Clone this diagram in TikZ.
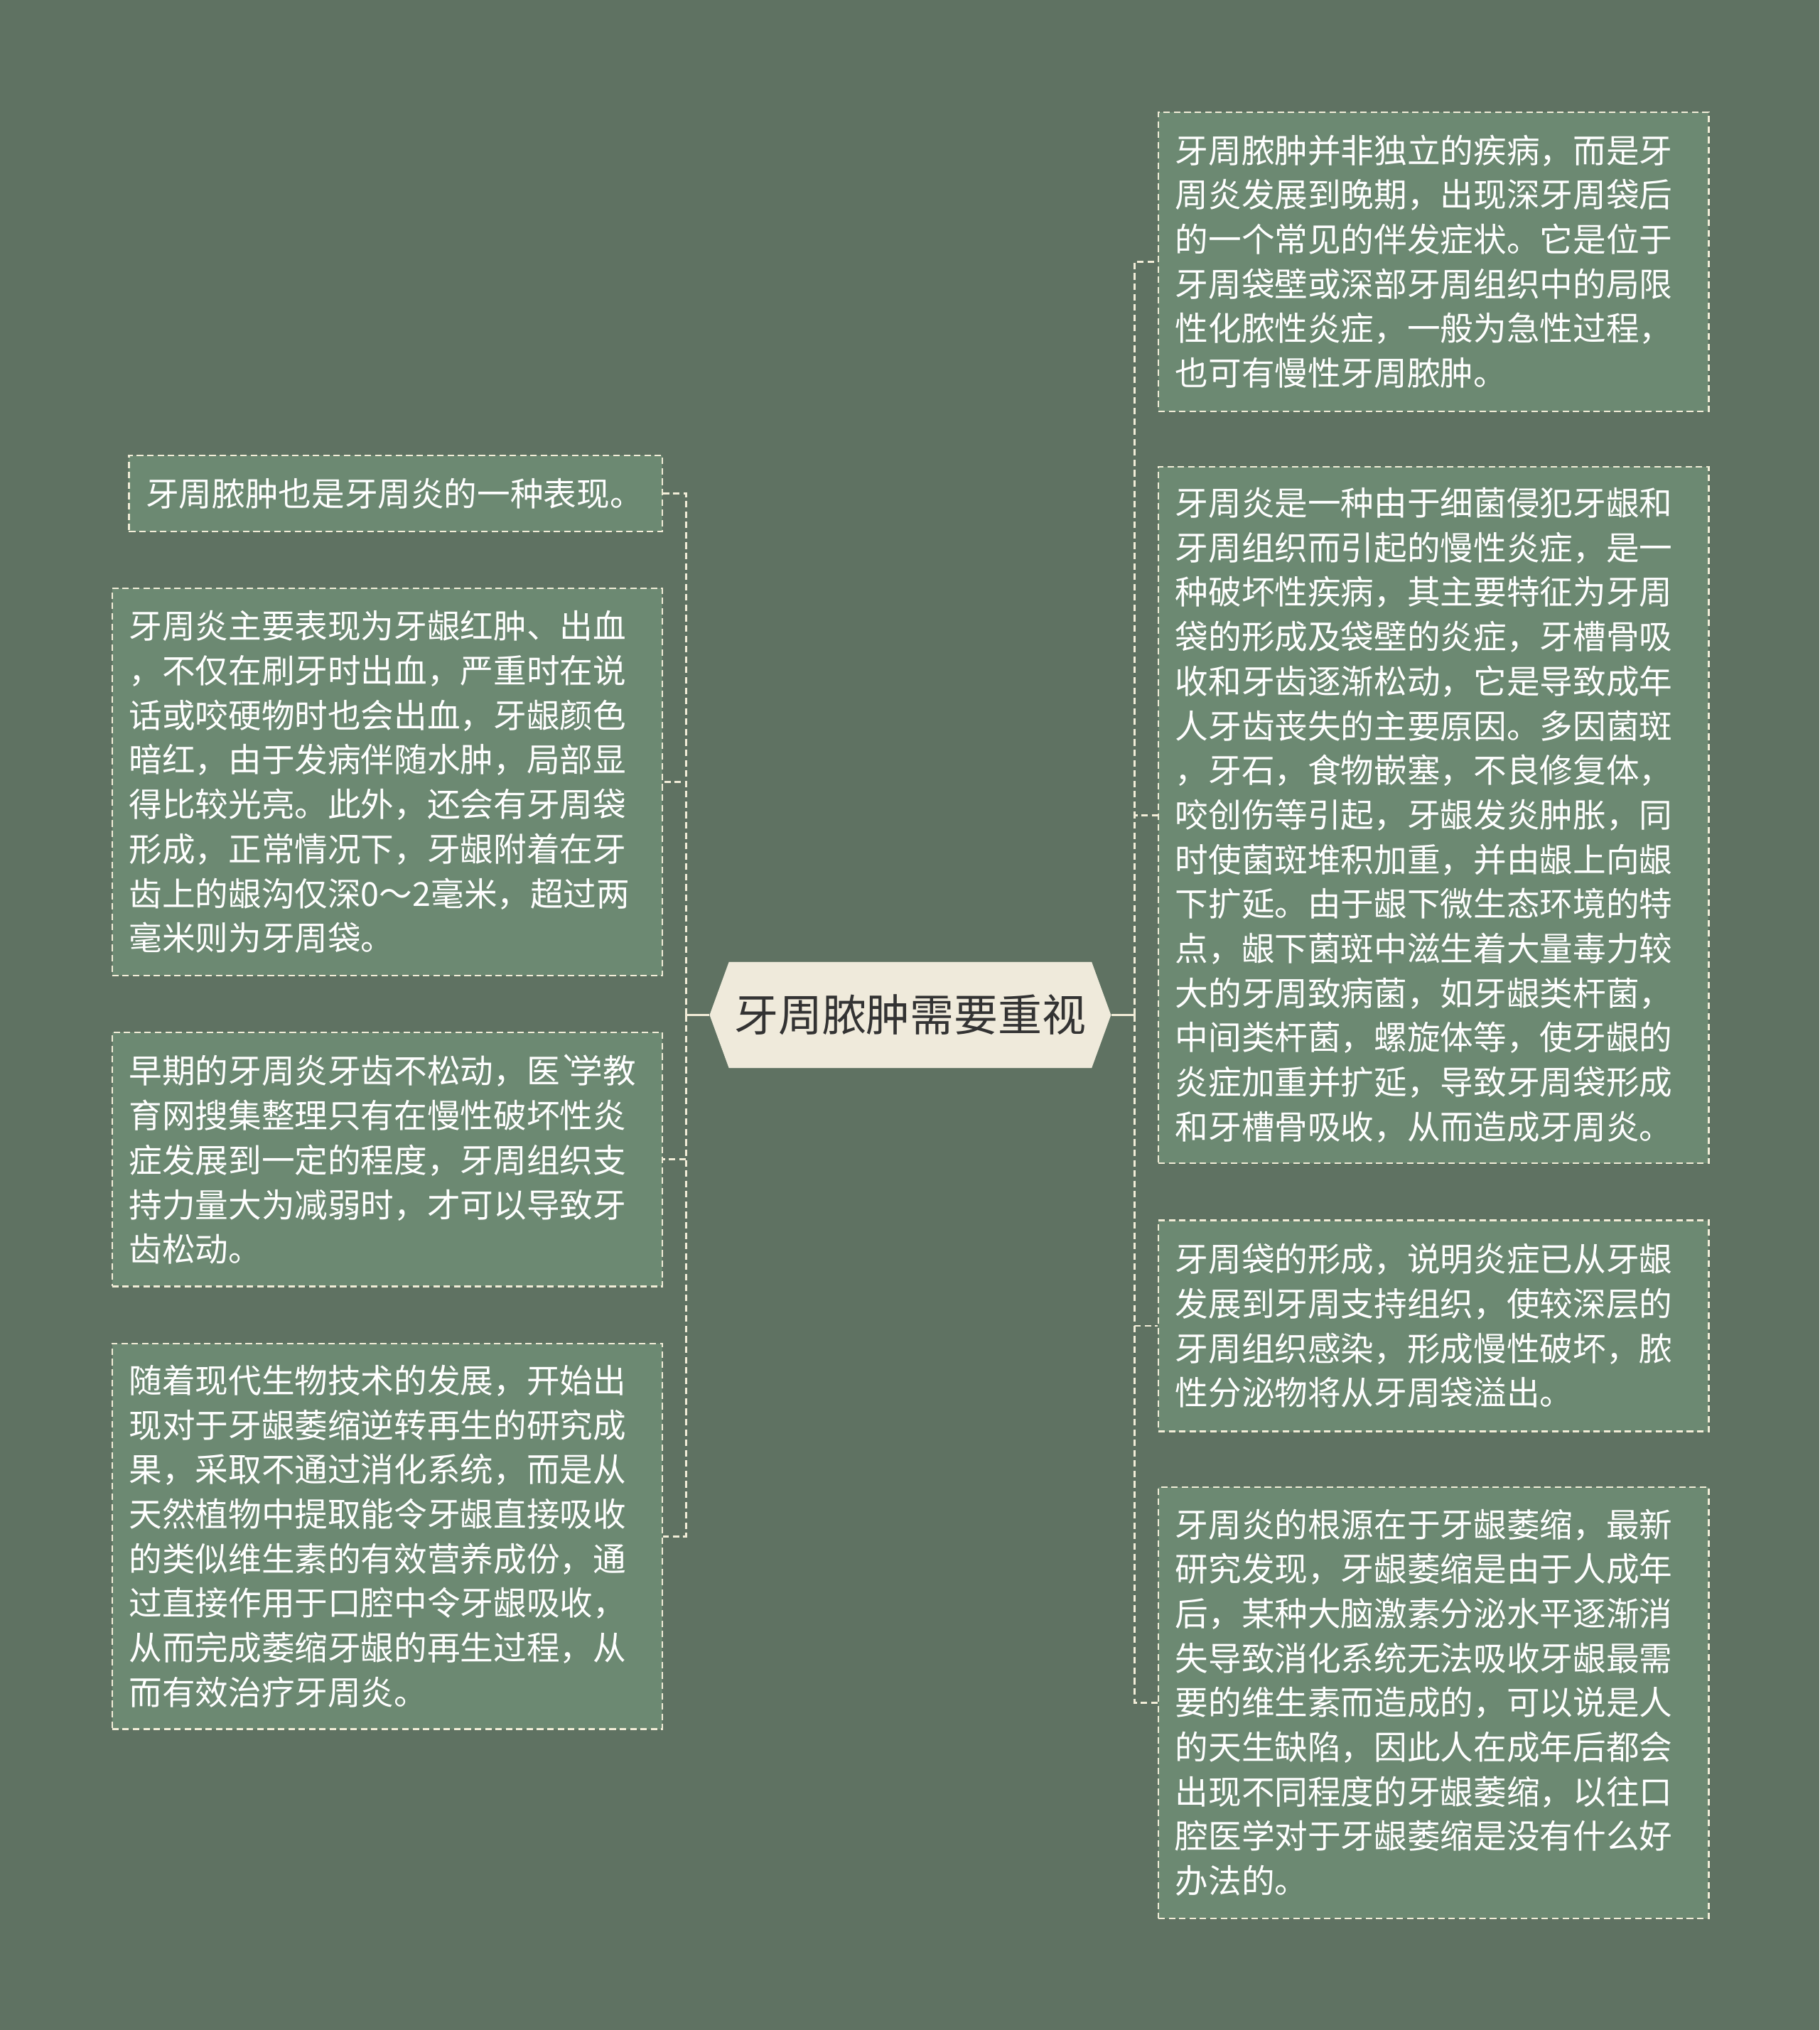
\documentclass[tikz,border=0pt]{standalone}
\usepackage{fontspec}
\usepackage{tikz}
\usetikzlibrary{shapes.symbols}
\newfontfamily\cjk[Ligatures=TeXOff]{Noto Sans CJK SC}
\definecolor{bgcol}{HTML}{5F7262}
\definecolor{boxcol}{HTML}{6C8972}
\definecolor{linecol}{HTML}{F2EDD8}
\definecolor{rootcol}{HTML}{EFEADB}
\definecolor{roottxt}{HTML}{333333}

\begin{document}
\begin{tikzpicture}[x=1pt,y=-1pt]
\fill[bgcol] (0,0) rectangle (1405,1568);
\useasboundingbox (0,0) rectangle (1405,1568);
 \tikzstyle{box}=[draw=linecol, fill=boxcol, line width=1.2pt, dash pattern=on 5pt off 3pt, anchor=north west, inner xsep=13pt, inner ysep=0pt, text width=399pt, align=left, text=white, font=\cjk\fontsize{25.6pt}{34.4pt}\selectfont]
 \tikzstyle{link}=[draw=linecol, line width=1.6pt, dash pattern=on 5pt off 3pt]
\node[shape=signal, signal to=west and east, signal pointer angle=140, fill=rootcol, minimum width=310pt, minimum height=82pt, inner sep=0pt, text=roottxt, font=\cjk\fontsize{34pt}{40pt}\selectfont](root) at (703,784){牙周脓肿需要重视};
% left side
\node[box, text width=386pt, minimum height=59pt](l1) at (99,351){牙周脓肿也是牙周炎的一种表现。};
\node[box, minimum height=299pt](l2) at (86,454){牙周炎主要表现为牙龈红肿、出血\\，不仅在刷牙时出血，严重时在说\\话或咬硬物时也会出血，牙龈颜色\\暗红，由于发病伴随水肿，局部显\\得比较光亮。此外，还会有牙周袋\\形成，正常情况下，牙龈附着在牙\\齿上的龈沟仅深0～2毫米，超过两\\毫米则为牙周袋。};
\node[box, minimum height=196pt](l3) at (86,797){早期的牙周炎牙齿不松动，医\makebox[0.3em][l]{`}学教\\育网搜集整理只有在慢性破坏性炎\\症发展到一定的程度，牙周组织支\\持力量大为减弱时，才可以导致牙\\齿松动。};
\node[box, minimum height=298pt](l4) at (86,1037){随着现代生物技术的发展，开始出\\现对于牙龈萎缩逆转再生的研究成\\果，采取不通过消化系统，而是从\\天然植物中提取能令牙龈直接吸收\\的类似维生素的有效营养成份，通\\过直接作用于口腔中令牙龈吸收，\\从而完成萎缩牙龈的再生过程，从\\而有效治疗牙周炎。};
% right side
\node[box, minimum height=231pt](r1) at (894,86){牙周脓肿并非独立的疾病，而是牙\\周炎发展到晚期，出现深牙周袋后\\的一个常见的伴发症状。它是位于\\牙周袋壁或深部牙周组织中的局限\\性化脓性炎症，一般为急性过程，\\也可有慢性牙周脓肿。};
\node[box, minimum height=538pt](r2) at (894,360){牙周炎是一种由于细菌侵犯牙龈和\\牙周组织而引起的慢性炎症，是一\\种破坏性疾病，其主要特征为牙周\\袋的形成及袋壁的炎症，牙槽骨吸\\收和牙齿逐渐松动，它是导致成年\\人牙齿丧失的主要原因。多因菌斑\\，牙石，食物嵌塞，不良修复体，\\咬创伤等引起，牙龈发炎肿胀，同\\时使菌斑堆积加重，并由龈上向龈\\下扩延。由于龈下微生态环境的特\\点，龈下菌斑中滋生着大量毒力较\\大的牙周致病菌，如牙龈类杆菌，\\中间类杆菌，螺旋体等，使牙龈的\\炎症加重并扩延，导致牙周袋形成\\和牙槽骨吸收，从而造成牙周炎。};
\node[box, minimum height=163pt](r3) at (894,942){牙周袋的形成，说明炎症已从牙龈\\发展到牙周支持组织，使较深层的\\牙周组织感染，形成慢性破坏，脓\\性分泌物将从牙周袋溢出。};
\node[box, minimum height=333pt](r4) at (894,1148){牙周炎的根源在于牙龈萎缩，最新\\研究发现，牙龈萎缩是由于人成年\\后，某种大脑激素分泌水平逐渐消\\失导致消化系统无法吸收牙龈最需\\要的维生素而造成的，可以说是人\\的天生缺陷，因此人在成年后都会\\出现不同程度的牙龈萎缩，以往口\\腔医学对于牙龈萎缩是没有什么好\\办法的。};
\coordinate(lbus) at (530,784);
\coordinate(rbus) at (876,784);
\draw[draw=linecol, line width=1.6pt] (root.west) -- (lbus);
\draw[draw=linecol, line width=1.6pt] (root.east) -- (rbus);
 \foreach \i/\j/\k in {lbus/l1/east,lbus/l2/east,lbus/l3/east,lbus/l4/east,rbus/r1/west,rbus/r2/west,rbus/r3/west,rbus/r4/west}{\draw[link] (\i) |- (\j.\k);}
\end{tikzpicture}
\end{document}
